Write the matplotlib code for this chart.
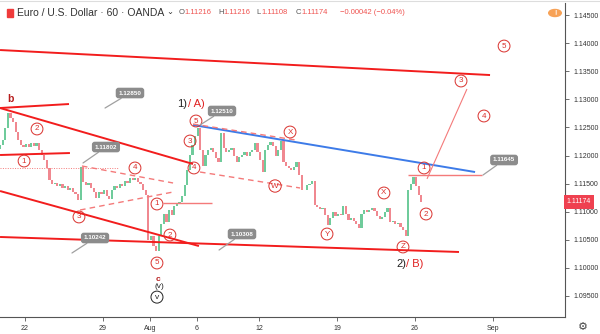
import numpy as np
import matplotlib
matplotlib.use('Agg')
import matplotlib.pyplot as plt
import matplotlib.transforms as mtransforms
from matplotlib.patches import Rectangle, Circle

plt.rcParams['font.family'] = ['Liberation Sans', 'DejaVu Sans']

# EUR/USD, 4-hour steps (x = trading days from Jul 22)
start_day = -1.6
first_open = 1.1212
closes = [
    1.1219, 1.1228, 1.1249, 1.1276, 1.1267, 1.1260, 1.1242, 1.1228, 1.1219, 1.1215,
    1.1220, 1.1215, 1.1222, 1.1217, 1.1222, 1.1210, 1.1201, 1.1192, 1.1178, 1.1157,
    1.1149, 1.1151, 1.1146, 1.1149, 1.1142, 1.1146, 1.1139, 1.1142, 1.1135, 1.1132,
    1.1121, 1.1180, 1.1153, 1.1148, 1.1151, 1.1142, 1.1135, 1.1125, 1.1135, 1.1132,
    1.1139, 1.1128, 1.1123, 1.1139, 1.1146, 1.1142, 1.1149, 1.1146, 1.1155, 1.1151,
    1.1160, 1.1157, 1.1160, 1.1153, 1.1149, 1.1139, 1.1130, 1.1050, 1.1057, 1.1039,
    1.1030, 1.1057, 1.1078, 1.1096, 1.1082, 1.1103, 1.1094, 1.1110, 1.1114, 1.1117,
    1.1128, 1.1148, 1.1174, 1.1201, 1.1219, 1.1235, 1.1249, 1.1210, 1.1181, 1.1201,
    1.1210, 1.1213, 1.1206, 1.1196, 1.1188, 1.1240, 1.1213, 1.1206, 1.1210, 1.1213,
    1.1199, 1.1188, 1.1197, 1.1201, 1.1206, 1.1199, 1.1206, 1.1210, 1.1222, 1.1206,
    1.1192, 1.1171, 1.1210, 1.1219, 1.1224, 1.1217, 1.1199, 1.1210, 1.1226, 1.1188,
    1.1181, 1.1178, 1.1174, 1.1179, 1.1188, 1.1165, 1.1139, 1.1139, 1.1148, 1.1149,
    1.1155, 1.1112, 1.1108, 1.1105, 1.1107, 1.1094, 1.1076, 1.1089, 1.1099, 1.1092,
    1.1096, 1.1094, 1.1110, 1.1096, 1.1085, 1.1089, 1.1083, 1.1078, 1.1071, 1.1096,
    1.1103, 1.1099, 1.1103, 1.1107, 1.1101, 1.1092, 1.1087, 1.1090, 1.1099, 1.1107,
    1.1082, 1.1083, 1.1078, 1.1080, 1.1073, 1.1067, 1.1057, 1.1139, 1.1149, 1.1161,
    1.1146, 1.1130, 1.1117,
]
last_price = 1.11174

tick_days = [0, 5, 8, 11, 15, 20, 25, 30]
tick_labels = ['22', '29', 'Aug', '6', '12', '19', '26', 'Sep']
price_ticks = [1.095, 1.100, 1.105, 1.110, 1.115, 1.120, 1.125, 1.130, 1.135, 1.140, 1.145]

RED = '#f21d1d'
LRED = '#f47a7a'
BLUE = '#3d7be8'

fig = plt.figure(figsize=(6, 3.34), dpi=100)
ax = fig.add_axes([0, 17 / 334, 565 / 600, 314 / 334])
ax.set_xlim(-1.6026, 34.615)
ax.set_ylim(1.09126, 1.14714)

# candles
opens = [first_open] + closes[:-1]
xs = start_day + np.arange(len(closes)) / 6
for x, o, c in zip(xs, opens, closes):
    col = '#6fcb9b' if c >= o else '#f08890'
    ax.bar(x, max(abs(c - o), 0.00005), bottom=min(o, c), width=0.14,
           color=col, edgecolor='none', zorder=2)

# trend lines (drawing tools)
def seg(p1, p2, color=RED, lw=1.4, ls='-', z=3):
    ax.plot([p1[0], p2[0]], [p1[1], p2[1]], color=color, lw=lw, ls=ls, zorder=z,
            solid_capstyle='butt')

seg((-1.60, 1.13877), (29.81, 1.13432))
seg((-1.60, 1.12845), (2.82, 1.12916))
seg((-1.60, 1.12845), (10.77, 1.11849))
seg((-1.60, 1.11368), (11.15, 1.10389))
seg((-1.60, 1.12009), (2.88, 1.12044))
seg((-1.60, 1.10550), (27.82, 1.10283))
seg((-1.60, 1.11778), (5.96, 1.11778), color=LRED, lw=0.7, ls=(0, (1, 1.5)))
seg((3.65, 1.11813), (9.49, 1.11511), color=LRED, lw=1.0, ls=(0, (4, 3)))
seg((3.53, 1.11030), (9.49, 1.11350), color=LRED, lw=1.0, ls=(0, (4, 3)))
seg((11.22, 1.11706), (17.63, 1.11422), color=LRED, lw=1.0, ls=(0, (4, 3)))
seg((10.77, 1.12543), (28.85, 1.11706), color=BLUE, lw=1.4)
seg((10.77, 1.12560), (17.31, 1.12278), color=LRED, lw=1.0, ls=(0, (4, 3)), z=4)
seg((24.55, 1.11653), (29.29, 1.11653), color=LRED, lw=1.0)
seg((8.85, 1.11155), (11.99, 1.11155), color=LRED, lw=1.0)
seg((25.77, 1.11584), (28.33, 1.13183), color=LRED, lw=0.8)

# elliott wave labels
waves = [
    ('2', 0.77, 1.12472), ('1', -0.06, 1.11902), ('3', 3.46, 1.10906),
    ('4', 7.05, 1.11778), ('1', 8.46, 1.11137), ('2', 9.29, 1.10585),
    ('5', 8.46, 1.10087), ('5', 10.96, 1.12614), ('3', 10.58, 1.12258),
    ('4', 10.83, 1.11778), ('X', 16.99, 1.12418), ('W', 16.03, 1.11457),
    ('Y', 19.36, 1.10603), ('X', 23.01, 1.11333), ('Z', 24.23, 1.10372),
    ('1', 25.58, 1.11778), ('2', 25.71, 1.10959), ('3', 27.95, 1.13326),
    ('4', 29.42, 1.12703), ('5', 30.71, 1.13948),
]
for s, x, y in waves:
    ax.text(x, y, s, color='#d9302c', fontsize=5.8, ha='center', va='center', zorder=6,
            bbox=dict(boxstyle='circle,pad=0.3', fc='none', ec='#d9302c', lw=0.7))

ax.text(-0.96, 1.13005, 'b', color='#b71c1c', fontsize=7.5, fontweight='bold',
        ha='center', va='center')
ax.text(8.53, 1.09802, 'c', color='#b71c1c', fontsize=6, fontweight='bold',
        ha='center', va='center')
ax.text(8.59, 1.09660, '(v)', color='#222222', fontsize=6, ha='center', va='center')
ax.text(8.46, 1.09480, 'v', color='#222222', fontsize=6, ha='center', va='center',
        bbox=dict(boxstyle='circle,pad=0.3', fc='none', ec='#222222', lw=0.7))

ax.text(9.74, 1.12916, '1)', color='#222222', fontsize=8, ha='left', va='center')
ax.text(10.45, 1.12916, '/ A)', color='#e02020', fontsize=8, ha='left', va='center')
ax.text(23.78, 1.10069, '2)', color='#222222', fontsize=8, ha='left', va='center')
ax.text(24.42, 1.10069, '/ B)', color='#e02020', fontsize=8, ha='left', va='center')

# price notes
notes = [
    ('1.12850', (6.73, 1.13112), (5.13, 1.12845)),
    ('1.11802', (5.19, 1.12151), (3.72, 1.11867)),
    ('1.12510', (12.63, 1.12792), (11.22, 1.12543)),
    ('1.10242', (4.49, 1.10532), (3.01, 1.10265)),
    ('1.10308', (13.91, 1.10603), (12.44, 1.10318)),
    ('1.11645', (30.71, 1.11920), (29.36, 1.11653)),
]
for s, box, tip in notes:
    ax.annotate(s, xy=tip, xytext=box, color='white', fontsize=4.5, fontweight='bold',
                ha='center', va='center', zorder=7,
                bbox=dict(boxstyle='round,pad=0.45', fc='#8c8c8c', ec='none'),
                arrowprops=dict(arrowstyle='-', color='#a0a0a0', lw=0.9,
                                shrinkA=0, shrinkB=0))

# axes
for side in ['top', 'left']:
    ax.spines[side].set_visible(False)
ax.spines['right'].set_color('#555555')
ax.spines['bottom'].set_color('#555555')
ax.spines['right'].set_linewidth(0.8)
ax.spines['bottom'].set_linewidth(0.8)
ax.yaxis.tick_right()
ax.set_yticks(price_ticks)
ax.set_yticklabels(['%.5f' % p for p in price_ticks])
ax.set_xticks(tick_days)
ax.set_xticklabels(tick_labels)
ax.tick_params(axis='both', labelsize=5, colors='#555555', length=3, width=0.6, pad=3)
ax.tick_params(axis='y', labelcolor='#333333')
ax.tick_params(axis='x', labelcolor='#333333')

trans = mtransforms.blended_transform_factory(ax.transAxes, ax.transData)
ax.text(1.003, last_price, '1.11174', transform=trans, color='white', fontsize=5,
        ha='left', va='center', zorder=8,
        bbox=dict(boxstyle='square,pad=0.45', fc='#ef4150', ec='none'))

# header
fig.add_artist(Rectangle((7 / 600, 1 - 17 / 334), 6 / 600, 8 / 334, color='#ef3b3b',
                         transform=fig.transFigure))
fig.text(17 / 600, 1 - 13 / 334, 'Euro / U.S. Dollar · 60 · OANDA', fontsize=7.5,
         color='#333333', va='center', ha='left')
fig.text(166 / 600, 1 - 12 / 334, '\u2304', fontsize=6, color='#333333', va='center',
         family='DejaVu Sans')
hx = [179, 218, 256, 296]
for x0, (k, v) in zip(hx, [('O', '1.11216'), ('H', '1.11216'), ('L', '1.11108'),
                           ('C', '1.11174')]):
    fig.text(x0 / 600, 1 - 13 / 334, k, fontsize=5.5, color='#555555', va='center')
    fig.text((x0 + 5.5) / 600, 1 - 13 / 334, v, fontsize=5.5, color='#ef5350',
             va='center')
fig.text(340 / 600, 1 - 13 / 334, '\u22120.00042 (\u22120.04%)', fontsize=5.5,
         color='#ef5350', va='center')
fig.add_artist(Circle((555 / 600, 1 - 13 / 334), 0.0105, color='#f7a257',
                      transform=fig.transFigure))
fig.text(555 / 600, 1 - 13.5 / 334, '!', fontsize=5, color='white', ha='center',
         va='center', fontweight='bold')
fig.add_artist(plt.Line2D([0, 1], [1 - 1 / 334, 1 - 1 / 334], color='#dddddd', lw=0.8,
                          transform=fig.transFigure))
fig.text(583 / 600, 1 - 327 / 334, '\u2699', fontsize=8, color='#444444', ha='center',
         va='center', family='DejaVu Sans')

fig.savefig('out.png', dpi=100)
